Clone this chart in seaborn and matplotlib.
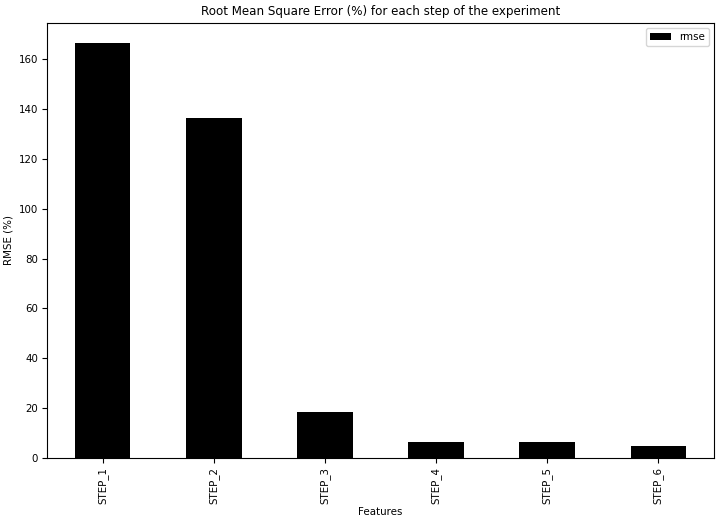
import pandas as pd
import matplotlib.pyplot as plt
import seaborn as sns

steps = ['STEP_1', 'STEP_2', 'STEP_3', 'STEP_4', 'STEP_5', 'STEP_6']
rmse = [166.3, 136.4, 18.5, 6.5, 6.5, 4.9]

df = pd.DataFrame({'Features': steps, 'rmse': rmse})

plt.rcParams['font.family'] = ['DejaVu Sans']
fig, ax = plt.subplots(figsize=(7.23, 5.22), dpi=100)
fig.subplots_adjust(left=0.065, right=0.9875, top=0.956, bottom=0.1226)

sns.barplot(data=df, x='Features', y='rmse', color='black', width=0.5,
            saturation=1, label='rmse', ax=ax)

ax.set_ylim(0, 174.5)
ax.set_xlim(-0.5, 5.5)
ax.tick_params(axis='both', labelsize=7.4, pad=3)
plt.setp(ax.get_xticklabels(), rotation=90)
ax.set_ylabel('RMSE (%)', fontsize=7.4)
ax.set_xlabel('Features', fontsize=7.4, labelpad=2)
ax.set_title('Root Mean Square Error (%) for each step of the experiment', fontsize=8.6)
ax.legend(loc='upper right', fontsize=7.4)

fig.savefig('out.png', dpi=100, facecolor='white')
